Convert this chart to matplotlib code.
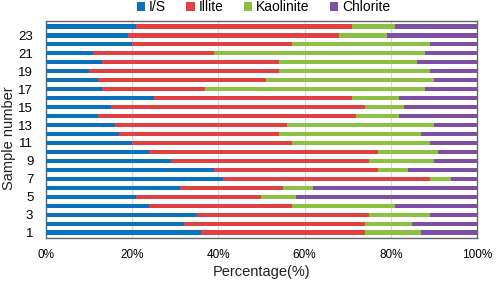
import matplotlib.pyplot as plt
from matplotlib.patches import Patch
import numpy as np

plt.rcParams['font.family'] = ['Liberation Sans', 'DejaVu Sans']

# sample 1 .. 24 (bottom to top)
samples = list(range(1, 25))
illite_smectite = [36, 32, 35, 24, 21, 31, 41, 39, 29, 24, 20, 17,
                   16, 12, 15, 25, 13, 12, 10, 13, 11, 20, 19, 21]
illite = [38, 42, 40, 33, 29, 24, 48, 38, 46, 53, 37, 37,
          40, 60, 59, 46, 24, 39, 44, 41, 28, 37, 49, 50]
kaolinite = [13, 11, 14, 24, 8, 7, 5, 7, 15, 14, 32, 33,
             34, 10, 9, 11, 51, 39, 35, 32, 49, 32, 11, 10]
chlorite = [13, 15, 11, 19, 42, 38, 6, 16, 10, 9, 11, 13,
            10, 18, 17, 18, 12, 10, 11, 14, 12, 11, 21, 19]

names = ['I/S', 'Illite', 'Kaolinite', 'Chlorite']
colors = ['#0a72bd', '#e04143', '#8cc043', '#7f4fa6']
series = [illite_smectite, illite, kaolinite, chlorite]

fig = plt.figure(figsize=(4.98, 2.85), dpi=100)
ax = fig.add_axes([0.092, 0.165, 0.866, 0.761])

left = np.zeros(len(samples))
for vals, c in zip(series, colors):
    ax.barh(samples, vals, left=left, height=0.47, color=c, zorder=3)
    left += np.array(vals)

ax.set_xlim(0, 100)
ax.set_ylim(0.4, 24.6)
ax.set_xticks([0, 20, 40, 60, 80, 100])
ax.set_xticklabels(['0%', '20%', '40%', '60%', '80%', '100%'], fontsize=8.5)
ax.set_yticks(range(1, 24, 2))
ax.set_yticklabels([str(i) for i in range(1, 24, 2)], fontsize=9.5)
ax.tick_params(length=0, pad=8)
ax.tick_params(axis='y', pad=9)
ax.grid(axis='x', color='#d8d8d8', lw=0.8, zorder=0)
for s in ax.spines.values():
    s.set_color('#666666')
    s.set_linewidth(1.0)

ax.set_xlabel('Percentage(%)', fontsize=10.5, color='#222222')
ax.xaxis.set_label_coords(0.5, -0.125)
ax.set_ylabel('Sample number', fontsize=10.5, color='#222222')
ax.yaxis.set_label_coords(-0.07, 0.46)

handles = [Patch(facecolor=c, edgecolor='none') for c in colors]
ax.legend(handles, names, loc='lower center', bbox_to_anchor=(0.505, 1.0),
          ncol=4, frameon=False, fontsize=10, handlelength=0.6, handleheight=0.6,
          handletextpad=0.3, columnspacing=1.45, borderaxespad=0.1)

fig.savefig('out.png', dpi=100)
